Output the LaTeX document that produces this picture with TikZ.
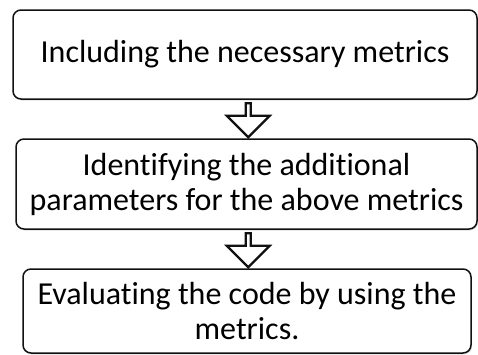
\documentclass[tikz,border=0pt]{standalone}
\usepackage{fontspec}
\setmainfont{Carlito}[Ligatures=NoCommon]
\usetikzlibrary{calc,shapes.arrows,shadows}
\definecolor{edge}{HTML}{111111}
\tikzset{
  box/.style={draw=edge, line width=1.5pt, rounded corners=8pt, fill=white, align=center,
    font=\fontsize{32}{35}\selectfont, inner sep=2pt,
    drop shadow={opacity=0.25, shadow xshift=1pt, shadow yshift=-1.5pt}},
  hollow/.style={single arrow, draw=edge, line width=2.2pt, fill=white, rotate=-90,
    minimum width=43pt, minimum height=34pt, single arrow head extend=8.5pt, inner sep=0pt}
}

\begin{document}
\begin{tikzpicture}[x=1pt,y=1pt]
  \useasboundingbox (0,0) rectangle (478,-354);
  \node[box, minimum width=464pt, minimum height=89pt] (incl) at (245,-54.5) {Including the necessary metrics};
  \node[box, minimum width=461pt, minimum height=90pt] (ident) at (246.5,-184) {Identifying the additional\\parameters for the above metrics};
  \node[box, minimum width=448pt, minimum height=84pt] (eval) at (247,-311) {Evaluating the code by using the\\metrics.};
  % block arrows between the steps
  \node[hollow] (a1) at ($(incl.south)!0.5!(ident.north)+(2.5,0)$) {};
  \node[hollow] (a2) at ($(ident.south)!0.5!(eval.north)+(1.5,0)$) {};
\end{tikzpicture}
\end{document}
